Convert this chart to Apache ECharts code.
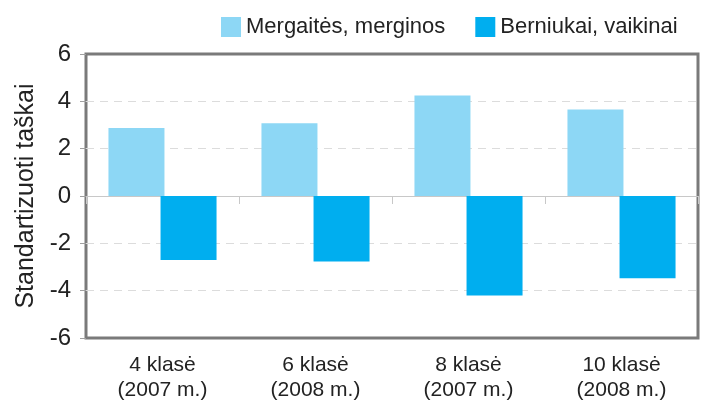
<!DOCTYPE html>
<html>
<head>
<meta charset="utf-8">
<script src="https://cdn.jsdelivr.net/npm/echarts@6/dist/echarts.min.js"></script>
<style>
  html, body { margin: 0; padding: 0; background: #fff; }
  #chart { width: 703px; height: 403px; }
</style>
</head>
<body>
<div id="chart"></div>
<script>
const categories = ['4 klasė\n(2007 m.)', '6 klasė\n(2008 m.)', '8 klasė\n(2007 m.)', '10 klasė\n(2008 m.)']
const girls = [2.87, 3.07, 4.25, 3.66]
const boys = [-2.7, -2.77, -4.2, -3.48]
const seriesNames = ['Mergaitės, merginos', 'Berniukai, vaikinai']

const font = 'Liberation Sans, Arial, sans-serif'
const chart = echarts.init(document.getElementById('chart'))

chart.setOption({
  animation: false,
  textStyle: { fontFamily: font },
  legend: {
    data: seriesNames,
    left: 216,
    top: 11,
    itemWidth: 20,
    itemHeight: 20,
    itemGap: 30,
    icon: 'rect',
    textStyle: { fontSize: 22, color: '#222', fontFamily: font },
  },
  grid: {
    left: 86,
    right: 5,
    top: 54,
    bottom: 62,
    show: true,
    borderColor: '#7a7a7a',
    borderWidth: 3,
  },
  xAxis: [
    {
      type: 'category',
      data: categories,
      axisLine: { onZero: true, lineStyle: { color: '#c8c8c8', width: 1 } },
      axisTick: { show: true, length: 8, lineStyle: { color: '#c8c8c8' } },
      axisLabel: { show: false },
    },
    {
      type: 'category',
      data: categories,
      position: 'bottom',
      axisLine: { show: false },
      axisTick: { show: false },
      axisLabel: {
        fontSize: 21,
        lineHeight: 25,
        color: '#222',
        margin: 15,
        fontFamily: font,
      },
    },
  ],
  yAxis: {
    type: 'value',
    min: -6,
    max: 6,
    interval: 2,
    name: 'Standartizuoti taškai',
    nameLocation: 'middle',
    nameGap: 46,
    nameTextStyle: { fontSize: 25, color: '#222', fontFamily: font },
    axisLine: { show: false },
    axisTick: { show: true, length: 6, lineStyle: { color: '#a0a0a0' } },
    axisLabel: { fontSize: 24, color: '#222', margin: 15, fontFamily: font },
    splitLine: {
      showMinLine: false,
      showMaxLine: false,
      lineStyle: { color: '#dcdcdc', type: [8, 6] },
    },
  },
  series: [
    {
      name: seriesNames[0],
      type: 'bar',
      data: girls,
      barWidth: 56,
      barGap: '-7%',
      itemStyle: { color: '#8dd7f5' },
    },
    {
      name: seriesNames[1],
      type: 'bar',
      data: boys,
      barWidth: 56,
      itemStyle: { color: '#00aeef' },
    },
  ],
})
</script>
</body>
</html>
